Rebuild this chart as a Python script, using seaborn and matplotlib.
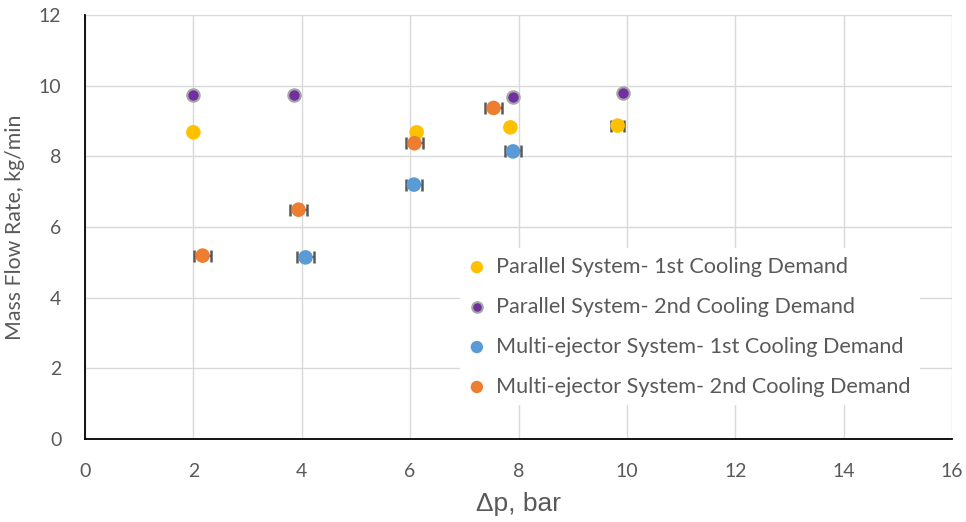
import numpy as np
import pandas as pd
import matplotlib
matplotlib.use("Agg")
import matplotlib.pyplot as plt
import seaborn as sns

# datos
par1_x = [2.0, 6.12, 7.85, 9.83]
par1_y = [8.68, 8.68, 8.82, 8.87]
par1_err = [0.0, 0.0, 0.0, 0.12]

par2_x = [2.0, 3.86, 7.9, 9.92]
par2_y = [9.74, 9.74, 9.68, 9.80]
par2_err = [0.0, 0.0, 0.0, 0.0]

mej1_x = [4.07, 6.07, 7.9]
mej1_y = [5.14, 7.20, 8.14]
mej1_err = [0.15, 0.15, 0.15]

mej2_x = [2.17, 3.94, 6.08, 7.54]
mej2_y = [5.19, 6.49, 8.37, 9.37]
mej2_err = [0.15, 0.15, 0.15, 0.15]

labels = ["Parallel System- 1st Cooling Demand",
          "Parallel System- 2nd Cooling Demand",
          "Multi-ejector System- 1st Cooling Demand",
          "Multi-ejector System- 2nd Cooling Demand"]
colors = ["#FFC000", "#7030A0", "#5B9BD5", "#ED7D31"]

sns.set_style("white")
plt.rcParams['font.family'] = ['Lato', 'DejaVu Sans']

gray = "#595959"

fig = plt.figure(figsize=(9.66, 5.22), dpi=100)
ax = fig.add_axes([85 / 966, 1 - 439 / 522, 867 / 966, 424 / 522])

series = [(par1_x, par1_y, par1_err), (par2_x, par2_y, par2_err),
          (mej1_x, mej1_y, mej1_err), (mej2_x, mej2_y, mej2_err)]

for i, (xs, ys, errs) in enumerate(series):
    df = pd.DataFrame({"dp": xs, "m": ys})
    # barras de error horizontales detrás del marcador
    ax.errorbar(xs, ys, xerr=errs, fmt="none", ecolor=gray, elinewidth=1.5,
                capsize=4, capthick=1.8, zorder=2)
    if i == 1:
        sns.scatterplot(data=df, x="dp", y="m", ax=ax, color=colors[i], s=80,
                        edgecolor="#A6A6A6", linewidth=1.5, label=labels[i], zorder=3)
    else:
        sns.scatterplot(data=df, x="dp", y="m", ax=ax, color=colors[i], s=110,
                        edgecolor="none", linewidth=0, label=labels[i], zorder=3)

ax.set_xlim(0, 16)
ax.set_ylim(0, 12)
ax.set_xticks(np.arange(0, 17, 2))
ax.set_yticks(np.arange(0, 13, 2))
ax.grid(True, color="#D9D9D9", linewidth=1.0, zorder=0)
ax.set_axisbelow(True)

for s in ["top", "right"]:
    ax.spines[s].set_visible(False)
for s in ["left", "bottom"]:
    ax.spines[s].set_color("black")
    ax.spines[s].set_linewidth(1.3)

ax.tick_params(axis="both", direction="in", length=7, width=1.3, color="black",
               labelcolor=gray, labelsize=14)
ax.tick_params(axis="x", pad=17)
ax.tick_params(axis="y", pad=17)

ax.set_xlabel("Δp, bar", fontsize=19, color=gray, labelpad=9,
              family=["Liberation Sans", "DejaVu Sans"])
ax.set_ylabel("Mass Flow Rate, kg/min", fontsize=15.3, color=gray, labelpad=10)

leg = ax.legend(loc="upper left", bbox_to_anchor=(0.432, 0.45), frameon=True,
                facecolor="white", edgecolor="none", framealpha=1, fontsize=15.6,
                labelspacing=0.92, handlelength=0.8, handletextpad=0.5,
                borderpad=0.4, borderaxespad=0, markerscale=0.85)
for t in leg.get_texts():
    t.set_color(gray)

fig.savefig("out.png", dpi=100)
